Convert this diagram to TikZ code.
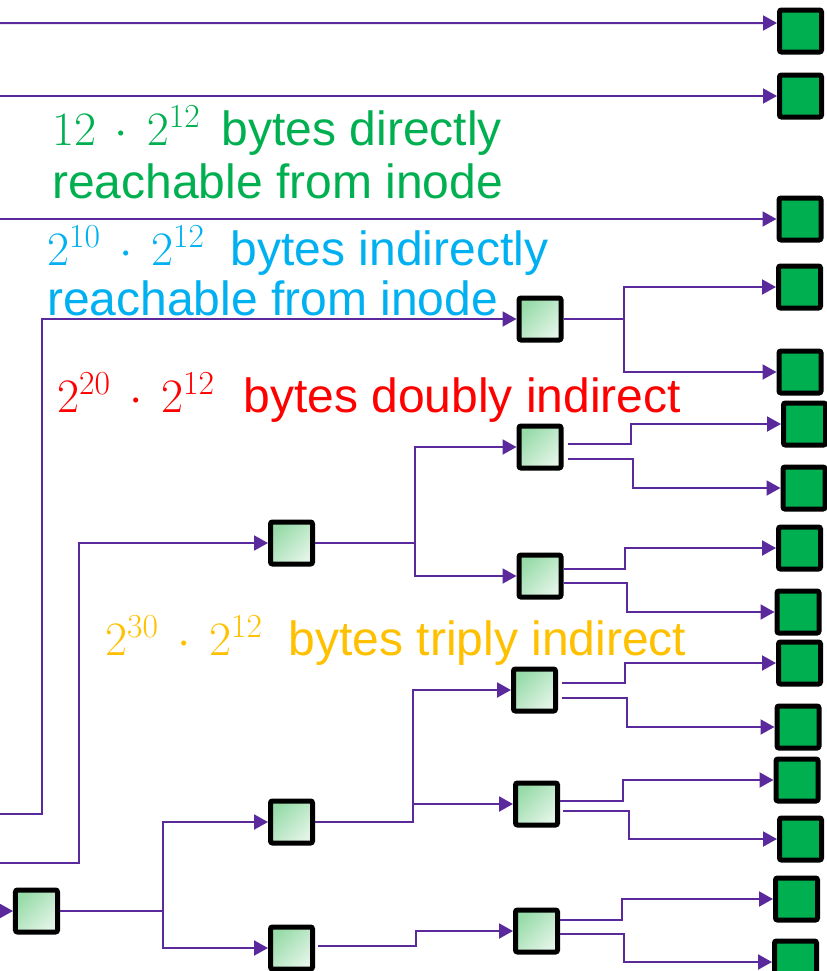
\RequirePackage{fix-cm}
\documentclass[tikz,border=0pt]{standalone}
\usepackage{fontspec}
\setmainfont{Liberation Sans}
\usetikzlibrary{arrows.meta}

\definecolor{ptrline}{HTML}{5A2A9C}
\definecolor{blkgreen}{HTML}{00B050}
\definecolor{indtop}{HTML}{96DBA8}
\definecolor{indbot}{HTML}{E2F4E6}
\definecolor{txtgreen}{HTML}{00B050}
\definecolor{txtcyan}{HTML}{00B0F0}
\definecolor{txtred}{HTML}{FF0000}
\definecolor{txtyellow}{HTML}{FFC000}

\tikzset{
  datablk/.style={draw=black, line width=5bp, fill=blkgreen, rounded corners=2bp,
    minimum width=42bp, minimum height=42bp, inner sep=0pt},
  indblk/.style={draw=black, line width=5bp, rounded corners=2bp,
    top color=indtop, bottom color=indbot, shading angle=45,
    minimum width=42bp, minimum height=42bp, inner sep=0pt},
  ptr/.style={draw=ptrline, line width=2bp, -{Triangle[length=14bp,width=15bp]}},
  lbl/.style={anchor=base west, inner sep=0pt, font=\fontsize{48bp}{53bp}\selectfont},
}
% size expression set in math, followed by a gap before the words
\newcommand{\sizeexpr}[2][0.45em]{$\medmuskip=7mu #2$\hspace{#1}}

\begin{document}
\begin{tikzpicture}[x=1bp, y=-1bp]
\useasboundingbox (0,0) rectangle (827,971);

% loose ends of the pointers on the left edge
\coordinate (in1) at (0,23);
\coordinate (in2) at (0,96);
\coordinate (in3) at (0,219);
\coordinate (inS) at (0,814);
\coordinate (inD) at (0,863);
\coordinate (inT) at (0,911);

% data blocks
\node[datablk] (D1)  at (800.5,31)  {};
\node[datablk] (D2)  at (800.5,96)  {};
\node[datablk] (D3)  at (800,219)   {};
\node[datablk] (D4)  at (799.5,287) {};
\node[datablk] (D5)  at (800,372)   {};
\node[datablk] (D6)  at (804.5,424) {};
\node[datablk] (D7)  at (804,488)   {};
\node[datablk] (D8)  at (799.5,548) {};
\node[datablk] (D9)  at (798,612)   {};
\node[datablk] (D10) at (799.5,663) {};
\node[datablk] (D11) at (798,727)   {};
\node[datablk] (D12) at (797,780)   {};
\node[datablk] (D13) at (800.5,839) {};
\node[datablk] (D14) at (796.5,899) {};
\node[datablk] (D15) at (795.5,962) {};

% indirect blocks
\node[indblk] (I1)  at (540,319)   {};
\node[indblk] (DA)  at (291.5,543) {};
\node[indblk] (DB1) at (540,447)   {};
\node[indblk] (DB2) at (540,576)   {};
\node[indblk] (T0)  at (36.5,911)  {};
\node[indblk] (T1)  at (291.5,822) {};
\node[indblk] (T2)  at (291.5,948) {};
\node[indblk] (TA1) at (534.5,690) {};
\node[indblk] (TA2) at (536.5,804) {};
\node[indblk] (TA3) at (536.5,931) {};

% direct pointers
\draw[ptr] (in1) -- ([yshift=8bp]D1.west);
\draw[ptr] (in2) -- (D2.west);
\draw[ptr] (in3) -- (D3.west);

% single indirect
\draw[ptr] (inS) -- ++(42,0) |- (I1.west);
\draw[ptr] (I1.east) -- ++(60,0) |- (D4.west);
\draw[ptr] (I1.east) -- ++(60,0) |- (D5.west);

% double indirect
\draw[ptr] (inD) -- ++(79,0) |- (DA.west);
\draw[ptr] (DA.east) -- ++(100,0) |- (DB1.west);
\draw[ptr] (DA.east) -- ++(100,0) |- (DB2.west);
\draw[ptr] ([xshift=4bp,yshift=3bp]DB1.east) -- ++(63,0) |- (D6.west);
\draw[ptr] ([xshift=4bp,yshift=-12bp]DB1.east) -- ++(65,0) |- (D7.west);
\draw[ptr] ([yshift=7bp]DB2.east) -- ++(61,0) |- (D8.west);
\draw[ptr] ([yshift=-7bp]DB2.east) -- ++(63,0) |- (D9.west);

% triple indirect
\draw[ptr] (inT) -- (T0.west);
\draw[ptr] (T0.east) -- ++(103,0) |- (T1.west);
\draw[ptr] (T0.east) -- ++(103,0) |- (T2.west);
\draw[ptr] (T1.east) -- ++(98,0) |- (TA1.west);
\draw[ptr] (T1.east) -- ++(98,0) |- (TA2.west);
\draw[ptr] ([xshift=3bp,yshift=2bp]T2.east) -- ++(98,0) |- (TA3.west);
\draw[ptr] ([xshift=4bp,yshift=7bp]TA1.east) -- ++(63,0) |- (D10.west);
\draw[ptr] ([xshift=4bp,yshift=-8bp]TA1.east) -- ++(65,0) |- (D11.west);
\draw[ptr] ([yshift=3bp]TA2.east) -- ++(63,0) |- (D12.west);
\draw[ptr] ([xshift=3bp,yshift=-7bp]TA2.east) -- ++(66,0) |- (D13.west);
\draw[ptr] ([yshift=11bp]TA3.east) -- ++(62,0) |- (D14.west);
\draw[ptr] ([yshift=-3bp]TA3.east) -- ++(64,0) |- (D15.west);

% size annotations
\node[lbl, text=txtgreen] (g1) at (52,145) {\sizeexpr{12\cdot2^{12}}bytes directly};
\node[lbl, text=txtgreen] (g2) at (52,198) {reachable from inode};
\node[lbl, text=txtcyan] (c1) at (47,265) {\sizeexpr[0.55em]{2^{10}\cdot2^{12}}bytes indirectly};
\node[lbl, text=txtcyan] (c2) at (47,315) {reachable from inode};
\node[lbl, text=txtred] (r1) at (57,412) {\sizeexpr[0.6em]{2^{20}\cdot2^{12}}bytes doubly indirect};
\node[lbl, text=txtyellow] (y1) at (105,655) {\sizeexpr[0.55em]{2^{30}\cdot2^{12}}bytes triply indirect};
\end{tikzpicture}
\end{document}
